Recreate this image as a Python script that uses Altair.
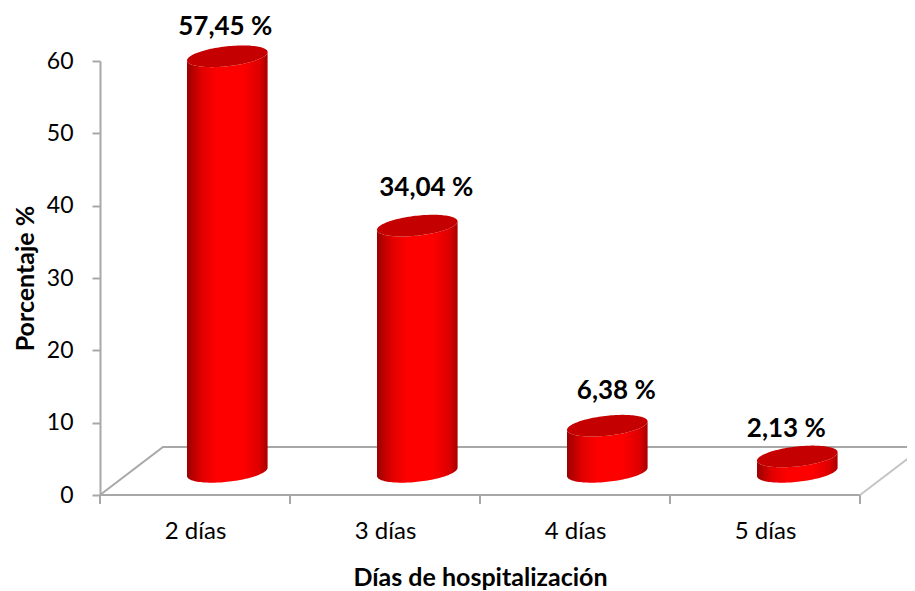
import math
import altair as alt
import pandas as pd

categories = ["2 días", "3 días", "4 días", "5 días"]
values = [57.45, 34.04, 6.38, 2.13]
labels = ["57,45 %", "34,04 %", "6,38 %", "2,13 %"]
y_ticks = [0, 10, 20, 30, 40, 50, 60]

# label nudges (px) relative to the cylinder's top centre
label_dx = [-2, 9, 9, -11]
label_dy = [-29, -38, -35, -27]

# 3D projection, in px of the plot area
W, H = 760, 434
XD, YD = 4, 60
ux = W / XD
uy = H / YD
depth_x, depth_y = 63 / ux, 48 / uy      # full floor depth, in data units
mid_x, mid_y = 0.17, 3.2                 # cylinders stand mid-depth
A, B, T = 40.3, 10.0, 4.2                # ellipse half-axes and tilt


def arc(cx, cy, sign, n=60):
    """Half ellipse, left to right. sign=+1 lower edge on screen, -1 upper edge."""
    pts = []
    for i in range(n + 1):
        t = math.pi * (1 - i / n)
        px = A * math.cos(t)
        py = sign * B * math.sin(t) - T * math.cos(t)
        pts.append((cx + px / ux, cy - py / uy))
    return pts


side, top = [], []
for i, (c, v) in enumerate(zip(categories, values)):
    cx = i + 0.5 + mid_x
    low = arc(cx, cy=mid_y, sign=1)
    high = arc(cx, cy=v + mid_y, sign=1)
    high_up = arc(cx, cy=v + mid_y, sign=-1)
    for (x, y0), (_, y1), (_, y2) in zip(low, high, high_up):
        side.append({"c": c, "x": x, "y": y0, "y2": y1})
        top.append({"c": c, "x": x, "y": y1, "y2": y2})

x_scale = alt.Scale(domain=[0, XD], nice=False, zero=False)
y_scale = alt.Scale(domain=[0, YD], nice=False, zero=False)
FONT = "Lato"
GREY = "#a8a8a8"

label_expr = "[" + ",".join(f"'{c}'" for c in categories) + "][floor(datum.value)]"

x_axis = alt.Axis(
    values=[i + 0.5 for i in range(4)], labelExpr=label_expr, ticks=False, grid=False,
    domain=False, labelFont=FONT, labelFontSize=24, labelColor="#000000", labelPadding=24,
    title="Días de hospitalización", titleFont=FONT, titleFontSize=25, titleFontWeight="bold",
    titleColor="#000000", titlePadding=22, labelFlush=False, labelOverlap=False,
)
y_axis = alt.Axis(
    values=y_ticks, grid=False, domainColor=GREY, domainWidth=2, tickColor=GREY, tickWidth=2,
    tickSize=8, labelFont=FONT, labelFontSize=23, labelColor="#000000", labelPadding=19,
    title="Porcentaje %", titleFont=FONT, titleFontSize=25, titleFontWeight="bold",
    titleColor="#000000", titlePadding=8,
)

X = alt.X("x:Q", scale=x_scale, axis=x_axis)
Y = alt.Y("y:Q", scale=y_scale, axis=y_axis, stack=None)

# frame: front edge and ticks, floor back edges
front = pd.DataFrame({"x": [0, XD], "y": [0, 0]})
base = alt.Chart(front).mark_line(color=GREY, strokeWidth=2).encode(x=X, y=Y)
ticks = (
    alt.Chart(pd.DataFrame({"x": list(range(XD + 1))}))
    .mark_rule(color=GREY, strokeWidth=2)
    .encode(x=X, y=alt.value(H), y2=alt.value(H + 9))
)
floor = pd.DataFrame(
    {
        "x": [0, depth_x, XD + depth_x, XD],
        "y": [0, depth_y, depth_y, 0],
        "o": [0, 1, 2, 3],
    }
)
floor_line = (
    alt.Chart(floor[:3])
    .mark_line(color=GREY, strokeWidth=2, clip=False)
    .encode(x=X, y=Y, order="o:Q")
)
floor_right = (
    alt.Chart(floor[2:])
    .mark_line(color="#c4c4c4", strokeWidth=2, clip=False)
    .encode(x=X, y=Y, order="o:Q")
)

gradient = alt.LinearGradient(
    gradient="linear", x1=0, y1=0, x2=1, y2=0,
    stops=[
        alt.GradientStop(offset=0, color="#9a0000"),
        alt.GradientStop(offset=0.18, color="#e00000"),
        alt.GradientStop(offset=0.38, color="#ff0000"),
        alt.GradientStop(offset=0.68, color="#ff0000"),
        alt.GradientStop(offset=0.9, color="#dc0000"),
        alt.GradientStop(offset=1, color="#a80000"),
    ],
)
sides = (
    alt.Chart(pd.DataFrame(side))
    .mark_area(color=gradient, clip=False)
    .encode(x=X, y=Y, y2="y2:Q", detail="c:N")
)
tops = (
    alt.Chart(pd.DataFrame(top))
    .mark_area(color="#c40000", clip=False)
    .encode(x=X, y=Y, y2="y2:Q", detail="c:N")
)

texts = []
for i, (lab, v) in enumerate(zip(labels, values)):
    texts.append(
        alt.Chart(pd.DataFrame({"x": [i + 0.5 + mid_x], "y": [v + mid_y], "t": [lab]}))
        .mark_text(font=FONT, fontSize=26, fontWeight="bold", color="#000000",
                   dx=label_dx[i], dy=label_dy[i], clip=False)
        .encode(x=X, y=Y, text="t:N")
    )

chart = alt.layer(base, ticks, floor_line, floor_right, sides, tops, *texts).properties(
    width=W,
    height=H,
    padding={"left": 92, "top": 53, "right": 47, "bottom": 100},
    autosize=alt.AutoSizeParams(type="none"),
    background="#ffffff",
).configure_view(stroke=None)

chart.save("out.html", embed_options={"renderer": "svg", "actions": False})
